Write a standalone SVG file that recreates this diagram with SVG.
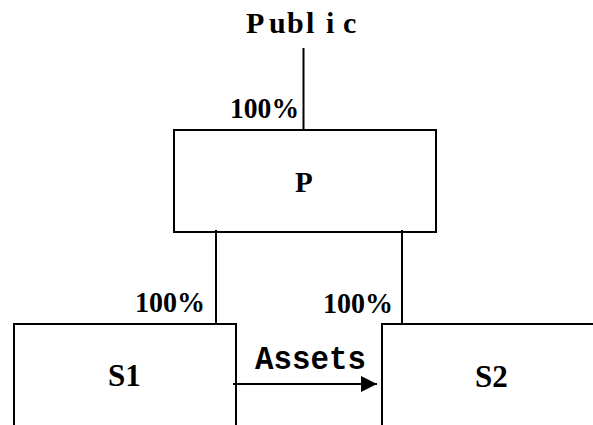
<svg xmlns="http://www.w3.org/2000/svg" width="593" height="425" viewBox="0 0 593 425">
<style>
.box{fill:#fff;stroke:#000;stroke-width:2}
.ln{stroke:#000;stroke-width:2;fill:none}
.t{font-family:"Liberation Serif","Times New Roman",serif;font-weight:bold;fill:#000}
.m{font-family:"Liberation Mono","Courier New",monospace;font-weight:bold;fill:#000}
</style>
<defs>
<marker id="ah" markerUnits="userSpaceOnUse" markerWidth="17" markerHeight="17" refX="16" refY="8" orient="auto">
<path d="M0,0 L16,8 L0,16 Z" fill="#000"/>
</marker>
</defs>
<rect width="593" height="425" fill="#fff"/>
<g id="public">
<text class="t" font-size="30" y="33"><tspan x="246">P</tspan><tspan x="269">u</tspan><tspan x="287">b</tspan><tspan x="306">l</tspan><tspan x="326">i</tspan><tspan x="343">c</tspan></text>
</g>
<g id="P">
<rect class="box" x="174" y="130" width="262" height="102"/>
<text class="t" font-size="29" x="295" y="192">P</text>
</g>
<g id="S1">
<rect class="box" x="14" y="324" width="222" height="130"/>
<text class="t" font-size="31" x="108" y="386">S1</text>
</g>
<g id="S2">
<rect class="box" x="382" y="324" width="250" height="130"/>
<text class="t" font-size="31" x="475" y="387">S2</text>
</g>
<g id="connectors">
<line class="ln" x1="303.5" y1="48" x2="303.5" y2="131"/>
<line class="ln" x1="216" y1="230" x2="216" y2="324"/>
<line class="ln" x1="402" y1="230" x2="402" y2="324"/>
<line class="ln" x1="233" y1="384" x2="377" y2="384" marker-end="url(#ah)"/>
<text class="t" font-size="30" x="230" y="118" textLength="69" lengthAdjust="spacingAndGlyphs">100%</text>
<text class="t" font-size="30" x="135" y="312" textLength="70" lengthAdjust="spacingAndGlyphs">100%</text>
<text class="t" font-size="30" x="323" y="313" textLength="70" lengthAdjust="spacingAndGlyphs">100%</text>
<text class="m" font-size="34" x="255" y="369" textLength="111" lengthAdjust="spacingAndGlyphs">Assets</text>
</g>
</svg>
